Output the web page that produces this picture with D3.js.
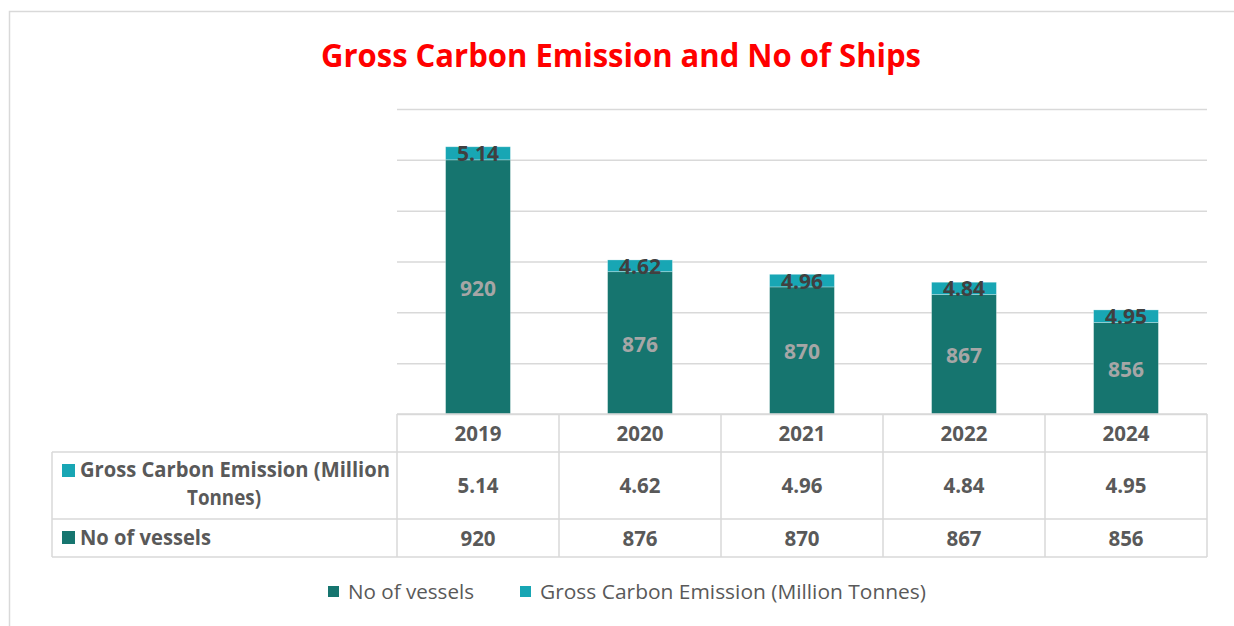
<!DOCTYPE html>
<html>
<head>
<meta charset="utf-8">
<script src="https://cdn.jsdelivr.net/npm/d3@7"></script>
<style>
  html, body { margin: 0; padding: 0; background: #fff; }
  svg { display: block; font-family: "Open Sans", "Noto Sans", sans-serif; }
</style>
</head>
<body>
<svg id="chart" width="1234" height="626"></svg>
<script>
// Years shown on the category axis / table header
const years = ["2019", "2020", "2021", "2022", "2024"];
// Number of vessels (lower stacked segment)
const vessels = [920, 876, 870, 867, 856];
// Gross carbon emission in million tonnes (upper stacked segment)
const emissions = [5.14, 4.62, 4.96, 4.84, 4.95];
// Value-axis gridline ticks
const yTicks = [820, 840, 860, 880, 900, 920, 940];

const seriesNames = ["No of vessels", "Gross Carbon Emission (Million Tonnes)"];
const colors = { vessels: "#16756F", emissions: "#18A6B4" };
const grid = "#D9D9D9";
const txt = "#595959";

const svg = d3.select("#chart");

// Outer chart frame
svg.append("path")
  .attr("d", "M9.5,640 V11.5 H1240")
  .attr("fill", "none").attr("stroke", grid).attr("stroke-width", 1.5);

// Title
svg.append("text")
  .attr("x", 621).attr("y", 67)
  .attr("text-anchor", "middle")
  .attr("fill", "#FF0000")
  .attr("font-weight", 700)
  .attr("font-size", 33)
  .attr("textLength", 600).attr("lengthAdjust", "spacingAndGlyphs")
  .text("Gross Carbon Emission and No of Ships");

const plotLeft = 397, plotRight = 1207, plotTop = 109, plotBottom = 414;

const y = d3.scaleLinear().domain([820, 940]).range([plotBottom, plotTop]);
const col = d3.scaleBand().domain(years).range([plotLeft, plotRight]).padding(0);
const xBar = d3.scaleBand().domain(years).range([plotLeft, plotRight])
  .paddingInner(0.6).paddingOuter(0.3);

// Horizontal gridlines via a left axis with full-width ticks
const yAxis = d3.axisLeft(y).tickValues(yTicks).tickSize(-(plotRight - plotLeft)).tickFormat("");
const ga = svg.append("g").attr("transform", `translate(${plotLeft},0)`).call(yAxis);
ga.select(".domain").remove();
ga.selectAll(".tick line").attr("stroke", grid).attr("stroke-width", 1.5);

// Stacked data
const rows = years.map((yr, i) => ({ year: yr, vessels: vessels[i], emissions: emissions[i] }));
const stack = d3.stack().keys(["vessels", "emissions"]);
const stacked = stack(rows);

const layers = svg.append("g").selectAll("g")
  .data(stacked).join("g")
  .attr("fill", d => colors[d.key]);

layers.selectAll("rect")
  .data(d => d)
  .join("rect")
  .attr("x", d => xBar(d.data.year))
  .attr("width", xBar.bandwidth())
  .attr("y", d => y(d[1]))
  .attr("height", d => y(Math.max(d[0], 820)) - y(d[1]))
  .attr("stroke", "rgba(255,255,255,0.35)")
  .attr("stroke-width", 0.8);

// Value labels inside the vessel segments
svg.append("g").selectAll("text")
  .data(stacked[0]).join("text")
  .attr("x", d => xBar(d.data.year) + xBar.bandwidth() / 2)
  .attr("y", d => (y(820) + y(d[1])) / 2)
  .attr("dy", "0.42em")
  .attr("text-anchor", "middle")
  .attr("fill", "#A6A6A6")
  .attr("font-weight", 700)
  .attr("font-size", 21)
  .text(d => d.data.vessels);

// Value labels on the emission segments
svg.append("g").selectAll("text")
  .data(stacked[1]).join("text")
  .attr("x", d => xBar(d.data.year) + xBar.bandwidth() / 2)
  .attr("y", d => (y(d[0]) + y(d[1])) / 2)
  .attr("dy", "0.38em")
  .attr("text-anchor", "middle")
  .attr("fill", "#404040")
  .attr("font-weight", 700)
  .attr("font-size", 21)
  .text(d => d.data.emissions.toFixed(2));

// Data table beneath the plot
const tblLeft = 52;
const rowY = [414, 452, 519, 557];
const tg = svg.append("g").attr("stroke", grid).attr("stroke-width", 1.5);
tg.append("line").attr("x1", plotLeft).attr("x2", plotRight).attr("y1", rowY[0]).attr("y2", rowY[0]);
rowY.slice(1).forEach(v => {
  tg.append("line").attr("x1", tblLeft).attr("x2", plotRight).attr("y1", v).attr("y2", v);
});
tg.append("line").attr("x1", tblLeft).attr("x2", tblLeft).attr("y1", rowY[1]).attr("y2", rowY[3]);
years.forEach(yr => {
  tg.append("line").attr("x1", col(yr)).attr("x2", col(yr)).attr("y1", rowY[0]).attr("y2", rowY[3]);
});
tg.append("line").attr("x1", plotRight).attr("x2", plotRight).attr("y1", rowY[0]).attr("y2", rowY[3]);

const cellText = (g, x, yy, s) => g.append("text")
  .attr("x", x).attr("y", yy).attr("dy", "0.38em")
  .attr("text-anchor", "middle").attr("fill", txt)
  .attr("font-weight", 700).attr("font-size", 20.5)
  .text(s);

const tt = svg.append("g");
years.forEach((yr, i) => {
  const cx = col(yr) + col.bandwidth() / 2;
  cellText(tt, cx, (rowY[0] + rowY[1]) / 2, yr);
  cellText(tt, cx, (rowY[1] + rowY[2]) / 2, emissions[i].toFixed(2));
  cellText(tt, cx, (rowY[2] + rowY[3]) / 2, vessels[i]);
});

// Row headers with legend keys
tt.append("rect").attr("x", 62).attr("y", 464).attr("width", 13).attr("height", 13).attr("fill", colors.emissions);
tt.append("text").attr("x", 80).attr("y", 477).attr("fill", txt).attr("font-weight", 700).attr("font-size", 20.5)
  .attr("textLength", 310).attr("lengthAdjust", "spacingAndGlyphs")
  .text("Gross Carbon Emission (Million");
tt.append("text").attr("x", 224).attr("y", 505).attr("text-anchor", "middle").attr("fill", txt)
  .attr("font-weight", 700).attr("font-size", 20.5)
  .attr("textLength", 74).attr("lengthAdjust", "spacingAndGlyphs")
  .text("Tonnes)");
tt.append("rect").attr("x", 62).attr("y", 531).attr("width", 13).attr("height", 13).attr("fill", colors.vessels);
tt.append("text").attr("x", 80).attr("y", 545).attr("fill", txt).attr("font-weight", 700).attr("font-size", 20.5)
  .attr("textLength", 131).attr("lengthAdjust", "spacingAndGlyphs")
  .text("No of vessels");

// Bottom legend
const legendItems = [
  { name: seriesNames[0], color: colors.vessels, x: 328, w: 126 },
  { name: seriesNames[1], color: colors.emissions, x: 520, w: 386 }
];
const lg = svg.append("g");
legendItems.forEach(it => {
  lg.append("rect").attr("x", it.x).attr("y", 586).attr("width", 11).attr("height", 11).attr("fill", it.color);
  lg.append("text").attr("x", it.x + 20).attr("y", 599).attr("fill", txt)
    .attr("font-size", 20.5)
    .attr("textLength", it.w).attr("lengthAdjust", "spacingAndGlyphs")
    .text(it.name);
});
</script>
</body>
</html>
